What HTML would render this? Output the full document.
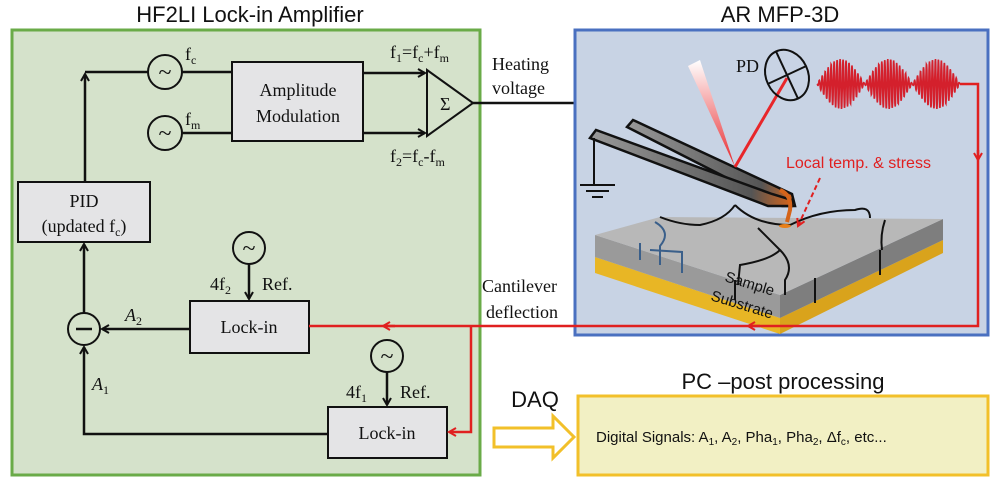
<!DOCTYPE html>
<html><head><meta charset="utf-8"><style>
html,body{margin:0;padding:0;background:#fff}
svg{display:block}
.ser{font-family:"Liberation Serif",serif;fill:#111}
.san{font-family:"Liberation Sans",sans-serif;fill:#111}
</style></head><body>
<svg width="1000" height="484" viewBox="0 0 1000 484" xmlns="http://www.w3.org/2000/svg">
<defs>
<marker id="ab" markerWidth="10" markerHeight="10" refX="8" refY="5" orient="auto" markerUnits="userSpaceOnUse"><path d="M1,1 L8,5 L1,9" fill="none" stroke="#111" stroke-width="2"/></marker>
<marker id="ar" markerWidth="10" markerHeight="10" refX="8" refY="5" orient="auto" markerUnits="userSpaceOnUse"><path d="M1,1 L8,5 L1,9" fill="none" stroke="#e02020" stroke-width="2"/></marker>
<linearGradient id="cone" x1="0" y1="0" x2="0" y2="1"><stop offset="0" stop-color="#fff"/><stop offset="1" stop-color="#e8262a"/></linearGradient>
<linearGradient id="bar" x1="0" y1="0" x2="1" y2="0"><stop offset="0" stop-color="#999"/><stop offset="0.8" stop-color="#555"/><stop offset="1" stop-color="#d5641a"/></linearGradient>
</defs>

<g>
<text x="250" y="22" text-anchor="middle" class="san" font-size="22">HF2LI Lock-in Amplifier</text>
<rect x="12" y="30" width="468" height="445" fill="#d5e2cb" stroke="#6aab48" stroke-width="3"/>

<g fill="none" stroke="#111" stroke-width="2">
<circle cx="165" cy="72" r="17"/>
<circle cx="165" cy="133" r="17"/>
<circle cx="249" cy="248" r="16"/>
<circle cx="387" cy="356" r="16"/>
<circle cx="84" cy="329" r="16"/>
</g>
<g class="ser" font-size="24" text-anchor="middle">
<text x="165" y="80">~</text><text x="165" y="141">~</text><text x="249" y="256">~</text><text x="387" y="364">~</text>
</g>
<line x1="76" y1="329" x2="92" y2="329" stroke="#111" stroke-width="2.5"/>
<text x="185" y="60" class="ser" font-size="18">f<tspan font-size="12" dy="4">c</tspan></text>
<text x="185" y="125" class="ser" font-size="18">f<tspan font-size="12" dy="4">m</tspan></text>

<rect x="232" y="62" width="131" height="79" fill="#e4e4e6" stroke="#111" stroke-width="2"/>
<text x="298" y="96" text-anchor="middle" class="ser" font-size="18">Amplitude</text>
<text x="298" y="122" text-anchor="middle" class="ser" font-size="18">Modulation</text>

<rect x="18" y="182" width="132" height="60" fill="#e4e4e6" stroke="#111" stroke-width="2"/>
<text x="84" y="207" text-anchor="middle" class="ser" font-size="18">PID</text>
<text x="84" y="232" text-anchor="middle" class="ser" font-size="18">(updated f<tspan font-size="12" dy="4">c</tspan><tspan dy="-4">)</tspan></text>

<rect x="190" y="301" width="119" height="52" fill="#e4e4e6" stroke="#111" stroke-width="2"/>
<text x="249" y="333" text-anchor="middle" class="ser" font-size="18">Lock-in</text>
<rect x="328" y="407" width="119" height="51" fill="#e4e4e6" stroke="#111" stroke-width="2"/>
<text x="387" y="439" text-anchor="middle" class="ser" font-size="18">Lock-in</text>

<path d="M427,70 L473,103 L427,136 Z" fill="none" stroke="#111" stroke-width="2"/>
<text x="440" y="110" class="ser" font-size="18">Σ</text>

<g stroke="#111" stroke-width="2.5" fill="none">
<line x1="182" y1="72" x2="232" y2="72"/>
<line x1="182" y1="133" x2="232" y2="133"/>
<line x1="363" y1="73" x2="425" y2="73" marker-end="url(#ab)"/>
<line x1="363" y1="133" x2="425" y2="133" marker-end="url(#ab)"/>
<path d="M148,72 L85,72"/>
<line x1="85" y1="182" x2="85" y2="74" marker-end="url(#ab)"/>
<line x1="84" y1="313" x2="84" y2="244" marker-end="url(#ab)"/>
<line x1="190" y1="329" x2="102" y2="329" marker-end="url(#ab)"/>
<path d="M328,434 L84,434 L84,347" marker-end="url(#ab)"/>
<line x1="249" y1="264" x2="249" y2="299" marker-end="url(#ab)"/>
<line x1="387" y1="372" x2="387" y2="405" marker-end="url(#ab)"/>
<path d="M473,103 L631,103 L631,130"/>
</g>
<text x="390" y="58" class="ser" font-size="18">f<tspan font-size="12" dy="4">1</tspan><tspan dy="-4">=f</tspan><tspan font-size="12" dy="4">c</tspan><tspan dy="-4">+f</tspan><tspan font-size="12" dy="4">m</tspan></text>
<text x="390" y="162" class="ser" font-size="18">f<tspan font-size="12" dy="4">2</tspan><tspan dy="-4">=f</tspan><tspan font-size="12" dy="4">c</tspan><tspan dy="-4">-f</tspan><tspan font-size="12" dy="4">m</tspan></text>
<text x="125" y="321" class="ser" font-size="18" font-style="italic">A<tspan font-size="12" dy="4" font-style="normal">2</tspan></text>
<text x="92" y="390" class="ser" font-size="18" font-style="italic">A<tspan font-size="12" dy="4" font-style="normal">1</tspan></text>
<text x="210" y="290" class="ser" font-size="18">4f<tspan font-size="12" dy="4">2</tspan></text>
<text x="262" y="290" class="ser" font-size="18">Ref.</text>
<text x="346" y="398" class="ser" font-size="18">4f<tspan font-size="12" dy="4">1</tspan></text>
<text x="400" y="398" class="ser" font-size="18">Ref.</text>
</g>

<text x="492" y="70" class="ser" font-size="18">Heating</text>
<text x="492" y="94" class="ser" font-size="18">voltage</text>
<text x="482" y="292" class="ser" font-size="18">Cantilever</text>
<text x="486" y="318" class="ser" font-size="18">deflection</text>

<g>
<text x="780" y="22" text-anchor="middle" class="san" font-size="22">AR MFP-3D</text>
<rect x="575" y="30" width="413" height="305" fill="#c8d3e4" stroke="#4a70c0" stroke-width="3"/>
<polygon points="595,257 780,318 780,334 595,273" fill="#e8b625"/>
<polygon points="780,318 943,240 943,253 780,334" fill="#d9a31c"/>
<polygon points="595,235 780,295 780,318 595,257" fill="#9a9a9a"/>
<polygon points="780,295 943,219 943,240 780,318" fill="#7e7e7e"/>
<polygon points="595,235 660,217 943,219 780,295" fill="#b8b8b8"/>
<g fill="none" stroke="#111" stroke-width="2">
<path d="M735,205 Q725,220 700,225 Q680,225 660,217"/>
<path d="M735,205 Q755,225 790,225 Q820,210 855,210 Q870,205 870,218"/>
<path d="M758,228 Q770,240 780,250 Q770,260 740,265 L738,285"/>
<path d="M780,250 Q795,265 785,280 L785,295"/>
<path d="M885,220 Q880,235 882,250"/>
<line x1="735" y1="280" x2="735" y2="300"/>
<line x1="815" y1="278" x2="815" y2="303"/>
<line x1="880" y1="250" x2="880" y2="275"/>
</g>
<g fill="none" stroke="#3a5f8a" stroke-width="2">
<path d="M655,222 Q672,232 660,246 L660,265"/>
<path d="M640,243 L640,260 M650,250 L682,252 L682,273"/>
</g>
<text x="724" y="281" class="san" font-size="15" transform="rotate(17 724 281)">Sample</text>
<text x="710" y="300" class="san" font-size="15" transform="rotate(17 710 300)">Substrate</text>
<polygon points="627,127 633,120 792,194 795,206 782,206" fill="url(#bar)" stroke="#111" stroke-width="2.5"/>
<polygon points="590,138 596,130 772,194 792,200 792,206 768,206" fill="url(#bar)" stroke="#111" stroke-width="2.5"/>
<path d="M780,190 Q792,195 790,210 L787,222" stroke="#d5641a" stroke-width="4" fill="none"/>
<ellipse cx="785" cy="226" rx="6" ry="2" fill="#e8801a"/>
<g stroke="#111" stroke-width="2">
<line x1="594" y1="138" x2="594" y2="185"/>
<line x1="580" y1="185" x2="615" y2="185"/>
<line x1="586" y1="191" x2="609" y2="191"/>
<line x1="592" y1="197" x2="603" y2="197"/>
</g>
<polygon points="688,66 700,60 735,167" fill="url(#cone)"/>
<line x1="735" y1="167" x2="787" y2="78" stroke="#e8262a" stroke-width="3"/>
<g transform="rotate(-25 787 75)" fill="none" stroke="#111" stroke-width="2">
<ellipse cx="787" cy="75" rx="21" ry="26"/>
<line x1="787" y1="49" x2="787" y2="101"/><line x1="766" y1="75" x2="808" y2="75"/>
</g>
<text x="736" y="72" class="ser" font-size="18">PD</text>
<path id="wave" fill="none" stroke="#d4202c" stroke-width="1.6"/>
<text x="786" y="168" font-family="Liberation Sans, sans-serif" font-size="16" fill="#e02020">Local temp. &amp; stress</text>
<line x1="820" y1="178" x2="798" y2="226" stroke="#e02020" stroke-width="2" stroke-dasharray="5,3" marker-end="url(#ar)"/>
</g>

<g stroke="#e02020" stroke-width="2.5" fill="none">
<path d="M960,84 L978,84 L978,326 L309,326"/>
<line x1="978" y1="150" x2="978" y2="160" marker-end="url(#ar)"/>
<line x1="760" y1="326" x2="748" y2="326" marker-end="url(#ar)"/>
<line x1="395" y1="326" x2="383" y2="326" marker-end="url(#ar)"/>
<path d="M471,326 L471,432 L449,432" marker-end="url(#ar)"/>
</g>

<text x="535" y="407" text-anchor="middle" class="san" font-size="22">DAQ</text>
<polygon points="494,428 553,428 553,416 574,437 553,458 553,447 494,447" fill="#fff" stroke="#f2c02a" stroke-width="3"/>

<text x="783" y="389" text-anchor="middle" class="san" font-size="22">PC –post processing</text>
<rect x="578" y="396" width="410" height="79" fill="#f2f0c4" stroke="#f2c02a" stroke-width="3"/>
<text x="596" y="442" class="san" font-size="15">Digital Signals: A<tspan font-size="10" dy="3">1</tspan><tspan dy="-3">, A</tspan><tspan font-size="10" dy="3">2</tspan><tspan dy="-3">, Pha</tspan><tspan font-size="10" dy="3">1</tspan><tspan dy="-3">, Pha</tspan><tspan font-size="10" dy="3">2</tspan><tspan dy="-3">, Δf</tspan><tspan font-size="10" dy="3">c</tspan><tspan dy="-3">, etc...</tspan></text>
</svg>
<script>
var d="";
for(var i=0;i<=600;i++){var t=i/600;var x=817+t*143;var env=Math.abs(Math.sin(t*Math.PI*3));var y=84+25*env*Math.sin(t*Math.PI*2*48);d+=(i?"L":"M")+x.toFixed(1)+","+y.toFixed(1);}
document.getElementById('wave').setAttribute('d',d);
</script>
</body></html>
